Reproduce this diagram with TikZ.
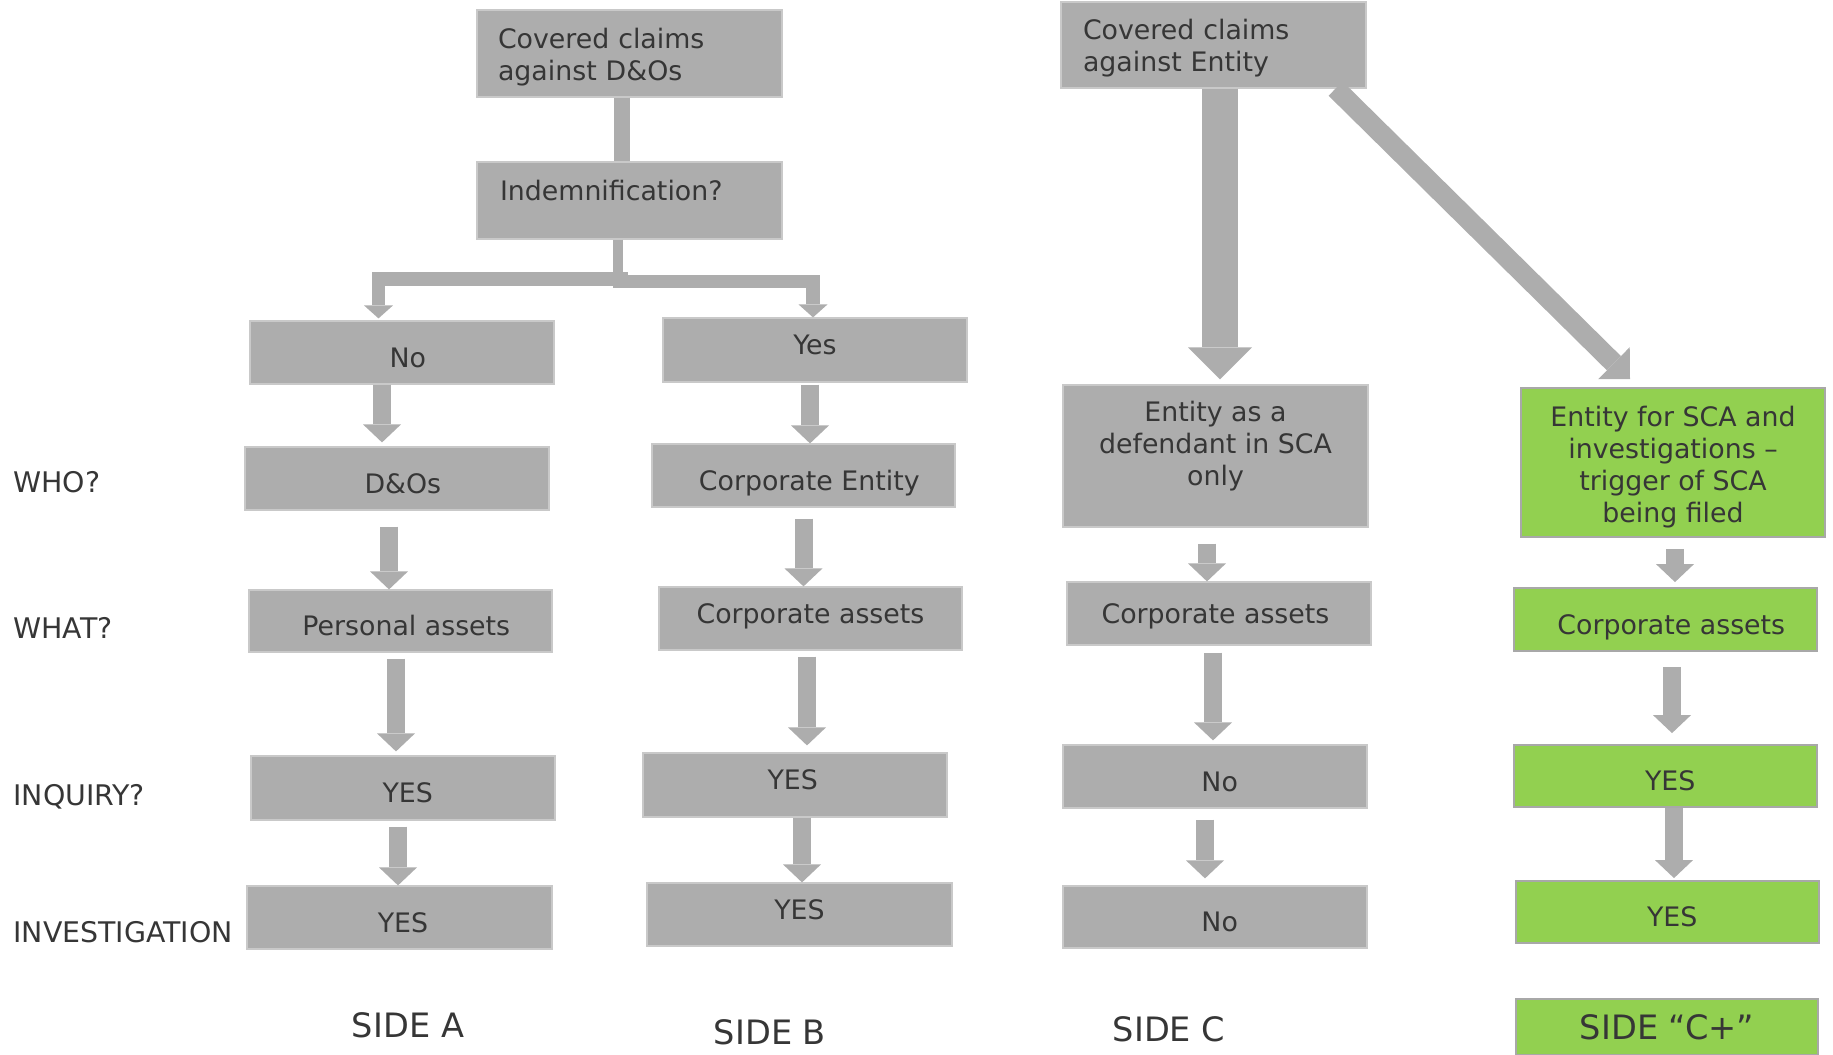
\documentclass[tikz,border=0pt]{standalone}
\usepackage{fontspec}
\setmainfont{DejaVu Sans}
\usetikzlibrary{arrows.meta}

\definecolor{boxgray}{HTML}{ADADAD}
\definecolor{boxedge}{HTML}{C9C9C9}
\definecolor{leaf}{HTML}{92D050}
\definecolor{leafedge}{HTML}{A8A8A8}
\definecolor{ink}{HTML}{363636}

\newcommand\boxfont{\fontsize{13.4}{16}\selectfont}
\newcommand\rowfont{\fontsize{14.2}{17}\selectfont}
\newcommand\sidefont{\fontsize{16.8}{20}\selectfont}

% \flowbox{style}{name}{x1}{y1}{x2}{y2}{text}: a box given by its corners (units of the picture)
\newcommand\flowbox[7]{%
  \pgfmathsetmacro\fbw{(#5-#3)/2}%
  \pgfmathsetmacro\fbh{(#6-#4)/2}%
  \node[#1, minimum width=\fbw pt, minimum height=\fbh pt] (#2)
    at ({(#3+#5)/2},{(#4+#6)/2}) {#7};%
}

\tikzset{
  box/.style={fill=boxgray, draw=boxedge, line width=0.6pt, text=ink,
    font=\boxfont, align=center, inner sep=0pt},
  grn/.style={box, fill=leaf, draw=leafedge, line width=0.9pt},
  lo/.style={text height=14.8pt, text depth=0pt},
  hi/.style={text height=9.8pt, text depth=5pt},
  nudge/.style={execute at begin node={\hspace*{#1}}},
  lefttext/.style={align=left, inner xsep=#1},
  rowlabel/.style={anchor=west, inner sep=0pt, text=ink, font=\rowfont,
    text height=10.35pt, text depth=0pt},
  sidelabel/.style={inner sep=0pt, text=ink, font=\sidefont,
    text height=12.25pt, text depth=0pt},
  fat/.style={draw=boxgray, line width=9pt,
    -{Triangle[width=19pt, length=9pt, line width=0pt]}},
  bigarrow/.style={draw=boxgray, line width=18pt,
    -{Triangle[width=32pt, length=16pt, line width=0pt]}},
  diagarrow/.style={draw=boxgray, line width=10pt,
    -{Triangle[width=22.5pt, length=11.3pt, line width=0pt]}},
  branch/.style={draw=boxgray, line width=6.75pt, line join=miter,
    -{Triangle[width=14.5pt, length=6.5pt, line width=0pt]}},
  bar/.style={draw=boxgray}
}

\begin{document}
\begin{tikzpicture}[x=0.5pt, y=-0.5pt]
\useasboundingbox (0,0) rectangle (1833,1055);

% ---- row questions on the left
\node[rowlabel] (who)  at (13,482) {WHO?};
\node[rowlabel] (what) at (13,628) {WHAT?};
\node[rowlabel] (inq)  at (13,795) {INQUIRY?};
\node[rowlabel] (inv)  at (13,932) {INVESTIGATION};

% ---- claims against D&Os
\flowbox{box, lefttext=10.5pt, text width=131.5pt}{topA}{477}{10}{782}{97}{\rule{0pt}{13.7pt}Covered claims\\against D\&Os}
\flowbox{box, lefttext=11.5pt, text width=129.5pt}{indem}{477}{162}{782}{239}{Indemnification?\rule[-10pt]{0pt}{10pt}}

% ---- side A
\flowbox{box, lo, nudge=5.8pt}{noA}{250}{321}{554}{384}{No}
\flowbox{box, lo, nudge=5.8pt}{dosA}{245}{447}{549}{510}{D\&Os}
\flowbox{box, lo, nudge=5.8pt}{persA}{249}{590}{552}{652}{Personal assets}
\flowbox{box, lo, nudge=4.7pt}{yesA1}{251}{756}{555}{820}{YES}
\flowbox{box, lo, nudge=3.5pt}{yesA2}{247}{886}{552}{949}{YES}

% ---- side B
\flowbox{box, hi}{yesB}{663}{318}{967}{382}{Yes}
\flowbox{box, lo, nudge=5.8pt}{corpEnt}{652}{444}{955}{507}{Corporate Entity}
\flowbox{box, hi}{corpAsB}{659}{587}{962}{650}{Corporate assets}
\flowbox{box, hi, nudge=-2.3pt}{yesB1}{643}{753}{947}{817}{YES}
\flowbox{box, hi}{yesB2}{647}{883}{952}{946}{YES}

% ---- claims against the entity, side C
\flowbox{box, lefttext=11pt, text width=130.5pt}{topC}{1061}{2}{1366}{88}{\rule{0pt}{13.7pt}Covered claims\\against Entity}
\flowbox{box}{entC}{1063}{385}{1368}{527}{Entity as a\\defendant in SCA\\only\rule[-12.2pt]{0pt}{12.2pt}}
\flowbox{box, text height=9.8pt, text depth=0pt, nudge=-3.5pt}{corpAsC}{1067}{582}{1371}{645}{Corporate assets}
\flowbox{box, lo, nudge=4.7pt}{noC1}{1063}{745}{1367}{808}{No}
\flowbox{box, lo, nudge=4.7pt}{noC2}{1063}{886}{1367}{948}{No}

% ---- side C+
\flowbox{grn}{entCP}{1521}{388}{1825}{537}{\rule{0pt}{14.9pt}Entity for SCA and\\investigations –\\trigger of SCA\\being filed}
\flowbox{grn, lo, nudge=5.8pt}{corpAsCP}{1514}{588}{1817}{651}{Corporate assets}
\flowbox{grn, lo, nudge=4.7pt}{yesCP1}{1514}{745}{1817}{807}{YES}
\flowbox{grn, lo, nudge=4.7pt}{yesCP2}{1516}{881}{1819}{943}{YES}

% ---- side captions
\node[sidelabel] (sideA) at (408,1025) {SIDE A};
\node[sidelabel] (sideB) at (770,1032) {SIDE B};
\node[sidelabel] (sideC) at (1169,1029) {SIDE C};
\flowbox{grn, font=\sidefont, text height=12.25pt, text depth=0pt}{sideCP}{1516}{999}{1818}{1055}{SIDE “C+”}

% ---- indemnification split
\draw[bar, line width=8pt] ([xshift=-3.75pt]topA.south) -- ([xshift=-3.75pt]topA.south |- indem.north);
\draw[bar, line width=5pt] ([xshift=-5.75pt]indem.south) -- ++(0,48);
\coordinate (splitL) at (628,279);
\coordinate (splitR) at (613,281.5);
\draw[branch, shorten >=1pt] (splitL) -| ([xshift=-11.75pt]noA.north);
\draw[branch] (splitR) -| ([xshift=-1pt]yesB.north);

% ---- side A arrows
\draw[fat, shorten >=2pt] ([xshift=-10pt]noA.south) -- ([xshift=-10pt]noA.south |- dosA.north);
\draw[fat, shorten <=8pt] ([xshift=-4pt]dosA.south) -- ([xshift=-4pt]dosA.south |- persA.north);
\draw[fat, shorten <=3pt, shorten >=2pt] ([xshift=-2.25pt]persA.south) -- ([xshift=-2.25pt]persA.south |- yesA1.north);
\draw[fat, shorten <=3pt] ([xshift=-2.5pt]yesA1.south) -- ([xshift=-2.5pt]yesA1.south |- yesA2.north);

% ---- side B arrows
\draw[fat, shorten <=1pt] ([xshift=-2.5pt]yesB.south) -- ([xshift=-2.5pt]yesB.south |- corpEnt.north);
\draw[fat, shorten <=5.5pt] (corpEnt.south) -- (corpEnt.south |- corpAsB.north);
\draw[fat, shorten <=3pt, shorten >=3.5pt] ([xshift=-1.75pt]corpAsB.south) -- ([xshift=-1.75pt]corpAsB.south |- yesB1.north);
\draw[fat] ([xshift=3.5pt]yesB1.south) -- ([xshift=3.5pt]yesB1.south |- yesB2.north);

% ---- side C arrows
\draw[bigarrow, shorten >=2.5pt] ([xshift=3.25pt]topC.south) -- ([xshift=3.25pt]topC.south |- entC.north);
\draw[fat, shorten <=8pt] ([xshift=-4.25pt]entC.south) -- ([xshift=-4.25pt]entC.south |- corpAsC.north);
\draw[fat, shorten <=3.5pt, shorten >=2pt] ([xshift=-3pt]corpAsC.south) -- ([xshift=-3pt]corpAsC.south |- noC1.north);
\draw[fat, shorten <=5.5pt, shorten >=3.5pt] ([xshift=-5pt]noC1.south) -- ([xshift=-5pt]noC1.south |- noC2.north);

% ---- side C+ arrows
\draw[diagarrow] ([xshift=-15.5pt]topC.south east) -- ([xshift=-21.5pt, yshift=4pt]entCP.north);
\draw[fat, shorten <=5.5pt, shorten >=2.5pt] ([xshift=1pt]entCP.south) -- ([xshift=1pt]entCP.south |- corpAsCP.north);
\draw[fat, shorten <=7.5pt, shorten >=5.5pt] ([xshift=3.25pt]corpAsCP.south) -- ([xshift=3.25pt]corpAsCP.south |- yesCP1.north);
\draw[fat, shorten >=1pt] ([xshift=4.25pt]yesCP1.south) -- ([xshift=4.25pt]yesCP1.south |- yesCP2.north);
\end{tikzpicture}
\end{document}
